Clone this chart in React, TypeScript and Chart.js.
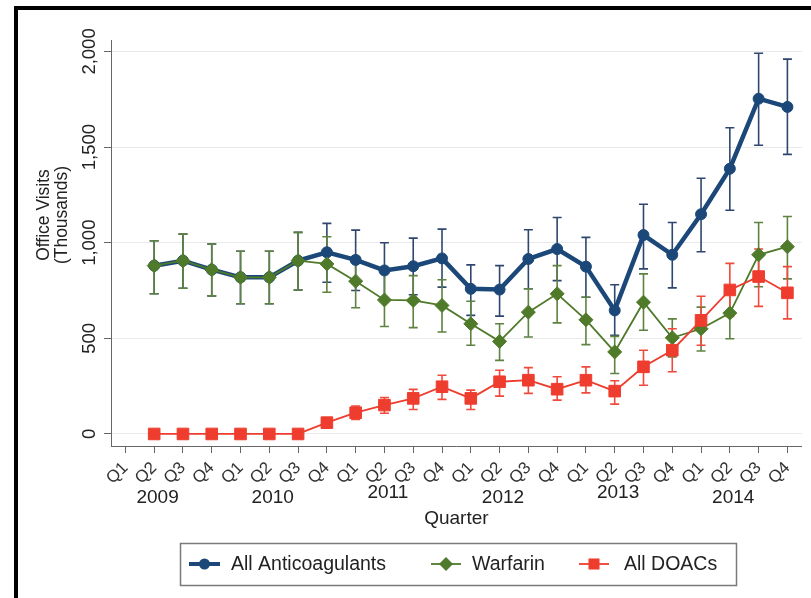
import { useEffect, useRef } from 'react';
import { Chart, registerables } from 'chart.js';

Chart.register(...registerables);

const quarterLabels = [
  'Q1', 'Q2', 'Q3', 'Q4', 'Q1', 'Q2', 'Q3', 'Q4', 'Q1', 'Q2', 'Q3', 'Q4',
  'Q1', 'Q2', 'Q3', 'Q4', 'Q1', 'Q2', 'Q3', 'Q4', 'Q1', 'Q2', 'Q3', 'Q4',
];
const yearLabels = ['2009', '2010', '2011', '2012', '2013', '2014'];
const yTickValues = [0, 500, 1000, 1500, 2000];
const yTickLabels = ['0', '500', '1,000', '1,500', '2,000'];

const allAnticoagulants = [
  null, 880, 906, 859, 819, 819, 906, 950, 910, 855, 877, 918,
  759, 755, 915, 967, 875, 646, 1040, 937, 1149, 1387, 1753, 1710,
];
const allAnticoagulantsLow = [
  null, 733, 762, 722, 681, 681, 753, 793, 750, 705, 728, 768,
  620, 616, 759, 802, 715, 516, 863, 764, 953, 1170, 1510, 1462,
];
const allAnticoagulantsHigh = [
  null, 1010, 1045, 993, 955, 955, 1054, 1101, 1066, 1000, 1024, 1071,
  884, 880, 1068, 1132, 1028, 780, 1201, 1106, 1337, 1601, 1991, 1960,
];

const warfarin = [
  null, 880, 906, 859, 819, 819, 906, 889, 799, 701, 698, 672,
  576, 484, 637, 733, 597, 429, 689, 503, 550, 632, 937, 979,
];
const warfarinLow = [
  null, 733, 762, 722, 681, 681, 753, 741, 660, 562, 556, 533,
  464, 385, 507, 581, 467, 316, 542, 403, 434, 498, 770, 811,
];
const warfarinHigh = [
  null, 1010, 1045, 993, 955, 955, 1054, 1031, 927, 840, 828, 806,
  694, 576, 759, 880, 715, 510, 837, 602, 663, 759, 1106, 1137,
];

const doacs = [
  null, 0, 0, 0, 0, 0, 0, 59, 111, 151, 186, 247,
  186, 273, 281, 234, 281, 224, 351, 438, 594, 753, 823, 738,
];
const doacsLow = [
  null, 0, 0, 0, 0, 0, 0, 48, 76, 108, 128, 181,
  128, 198, 212, 177, 215, 156, 255, 325, 464, 615, 667, 602,
];
const doacsHigh = [
  null, 0, 0, 0, 0, 0, 0, 70, 146, 191, 233, 307,
  229, 333, 347, 299, 351, 278, 438, 550, 720, 892, 967, 875,
];

const BLUE = '#1b4878';
const GREEN = '#4f7a2a';
const RED = '#ee3d2e';
const FONT = '"Liberation Sans", Arial, Helvetica, sans-serif';

const errorSets = [
  { low: allAnticoagulantsLow, high: allAnticoagulantsHigh, color: '#2f4770', width: 1.6 },
  { low: warfarinLow, high: warfarinHigh, color: '#5e8240', width: 1.6 },
  { low: doacsLow, high: doacsHigh, color: '#f04a3c', width: 1.6 },
];

const errorBarPlugin = {
  id: 'errorBars',
  beforeDatasetsDraw(chart: any) {
    const { ctx } = chart;
    const x = chart.scales.x;
    const y = chart.scales.y;
    ctx.save();
    errorSets.forEach((set) => {
      ctx.strokeStyle = set.color;
      ctx.lineWidth = set.width;
      set.low.forEach((lo: number | null, i: number) => {
        const hi = set.high[i];
        if (lo == null || hi == null || hi - lo < 1) return;
        const px = x.getPixelForValue(i);
        const pl = y.getPixelForValue(lo);
        const ph = y.getPixelForValue(hi);
        ctx.beginPath();
        ctx.moveTo(px, pl);
        ctx.lineTo(px, ph);
        ctx.moveTo(px - 4.5, pl);
        ctx.lineTo(px + 4.5, pl);
        ctx.moveTo(px - 4.5, ph);
        ctx.lineTo(px + 4.5, ph);
        ctx.stroke();
      });
    });
    ctx.restore();
  },
};

function drawMarker(ctx: CanvasRenderingContext2D, style: string, r: number, cx: number, cy: number) {
  ctx.beginPath();
  if (style === 'circle') {
    ctx.arc(cx, cy, r, 0, Math.PI * 2);
  } else if (style === 'rectRot') {
    ctx.moveTo(cx, cy - r);
    ctx.lineTo(cx + r, cy);
    ctx.lineTo(cx, cy + r);
    ctx.lineTo(cx - r, cy);
    ctx.closePath();
  } else {
    const s = r * Math.SQRT1_2;
    ctx.rect(cx - s, cy - s, 2 * s, 2 * s);
  }
  ctx.fill();
}

const legendItems = [
  { label: 'All Anticoagulants', color: BLUE, lw: 4, style: 'circle', r: 5.5, x0: 189, x1: 220, tx: 231 },
  { label: 'Warfarin', color: GREEN, lw: 1.8, style: 'rectRot', r: 7, x0: 431, x1: 461, tx: 472 },
  { label: 'All DOACs', color: RED, lw: 1.8, style: 'rect', r: 7.8, x0: 579, x1: 609, tx: 624 },
];

const textPlugin = {
  id: 'texts',
  afterDraw(chart: any) {
    const { ctx } = chart;
    const x = chart.scales.x;
    const y = chart.scales.y;
    ctx.save();
    // frame
    ctx.fillStyle = '#000';
    ctx.fillRect(14, 6, 811 - 14, 4);
    ctx.fillRect(14, 6, 4, 598 - 6);

    ctx.fillStyle = '#222';
    // y tick labels (rotated)
    ctx.font = `18.5px ${FONT}`;
    ctx.textAlign = 'center';
    ctx.textBaseline = 'middle';
    yTickValues.forEach((v, i) => {
      const py = y.getPixelForValue(v);
      ctx.save();
      ctx.translate(90, py);
      ctx.rotate(-Math.PI / 2);
      ctx.fillText(yTickLabels[i], 0, 0);
      ctx.restore();
    });

    // y title
    ctx.font = `17.5px ${FONT}`;
    ctx.save();
    ctx.translate(44, 215);
    ctx.rotate(-Math.PI / 2);
    ctx.fillText('Office Visits', 0, 0);
    ctx.restore();
    ctx.save();
    ctx.translate(62, 215);
    ctx.rotate(-Math.PI / 2);
    ctx.fillText('(Thousands)', 0, 0);
    ctx.restore();

    // years
    ctx.font = `19px ${FONT}`;
    yearLabels.forEach((yr, i) => {
      const a = x.getPixelForValue(i * 4 + 1);
      const b = x.getPixelForValue(i * 4 + 2);
      const raise = i === 2 || i === 4 ? 5 : 0;
      ctx.fillText(yr, (a + b) / 2 - 11, 498 - raise);
    });

    // x title
    ctx.fillText('Quarter', (chart.chartArea.left + chart.chartArea.right) / 2, 519);

    // legend
    ctx.strokeStyle = '#7a7a7a';
    ctx.lineWidth = 1.5;
    ctx.strokeRect(180.5, 543.5, 556, 42);
    ctx.font = `19.5px ${FONT}`;
    ctx.textAlign = 'left';
    const ly = 564;
    legendItems.forEach((it) => {
      ctx.strokeStyle = it.color;
      ctx.lineWidth = it.lw;
      ctx.beginPath();
      ctx.moveTo(it.x0, ly);
      ctx.lineTo(it.x1, ly);
      ctx.stroke();
      ctx.fillStyle = it.color;
      drawMarker(ctx, it.style, it.r, (it.x0 + it.x1) / 2, ly);
      ctx.fillStyle = '#222';
      ctx.fillText(it.label, it.tx, ly + 1);
    });
    ctx.restore();
  },
};

export default function App() {
  const canvasRef = useRef<HTMLCanvasElement | null>(null);

  useEffect(() => {
    if (!canvasRef.current) return;
    const chart = new Chart(canvasRef.current, {
      type: 'line',
      data: {
        labels: quarterLabels,
        datasets: [
          {
            label: 'All Anticoagulants',
            data: allAnticoagulants,
            borderColor: BLUE,
            backgroundColor: BLUE,
            borderWidth: 4.5,
            pointStyle: 'circle',
            pointRadius: 5.5,
            pointBorderWidth: 1,
            tension: 0,
            order: 3,
          },
          {
            label: 'Warfarin',
            data: warfarin,
            borderColor: GREEN,
            backgroundColor: GREEN,
            borderWidth: 1.8,
            pointStyle: 'rectRot',
            pointRadius: 7,
            pointBorderWidth: 1,
            tension: 0,
            order: 2,
          },
          {
            label: 'All DOACs',
            data: doacs,
            borderColor: RED,
            backgroundColor: RED,
            borderWidth: 1.8,
            pointStyle: 'rect',
            pointRadius: 8.2,
            pointBorderWidth: 1,
            tension: 0,
            order: 1,
          },
        ],
      },
      options: {
        responsive: false,
        animation: false,
        devicePixelRatio: 1,
        layout: { padding: { top: 40, right: 8, left: 0, bottom: 0 } },
        plugins: {
          legend: { display: false },
          tooltip: { enabled: false },
        },
        scales: {
          x: {
            type: 'category',
            offset: true,
            afterFit: (s: any) => {
              s.height = 598 - 446;
            },
            grid: {
              display: true,
              drawOnChartArea: false,
              drawTicks: true,
              tickLength: 7,
              tickColor: '#666',
              offset: false,
            },
            border: { display: true, color: '#666', width: 1 },
            ticks: {
              autoSkip: false,
              minRotation: 45,
              maxRotation: 45,
              padding: 5,
              color: '#333',
              font: { family: FONT, size: 17 },
            },
          },
          y: {
            type: 'linear',
            min: -63,
            max: 2060,
            afterFit: (s: any) => {
              s.width = 111;
            },
            afterBuildTicks: (s: any) => {
              s.ticks = yTickValues.map((v) => ({ value: v }));
            },
            grid: {
              color: '#e9e9e9',
              lineWidth: 1,
              drawTicks: true,
              tickLength: 7,
              tickColor: '#666',
            },
            border: { display: true, color: '#666', width: 1 },
            ticks: { display: false },
          },
        },
      },
      plugins: [errorBarPlugin, textPlugin],
    } as any);
    return () => chart.destroy();
  }, []);

  return (
    <div style={{ position: 'fixed', left: 0, top: 0, width: 811, height: 598, background: '#fff' }}>
      <canvas ref={canvasRef} width={811} height={598} style={{ display: 'block' }} />
    </div>
  );
}
